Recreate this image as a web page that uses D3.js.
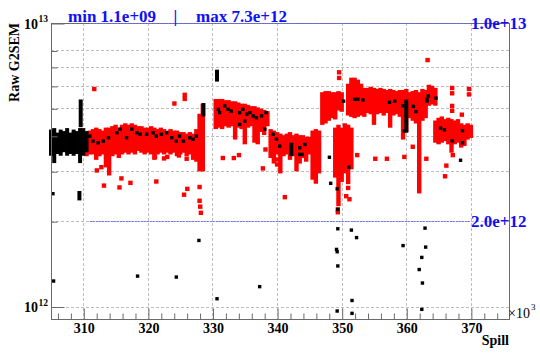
<!DOCTYPE html>
<html><head><meta charset="utf-8">
<script src="https://cdn.jsdelivr.net/npm/d3@7"></script>
<style>body{margin:0;background:#fff}svg{display:block}</style>
</head><body>
<svg id="c" width="540" height="354"></svg>
<script>
// values in units of 1e12 (Raw G2SEM), spill in units of 1e3
const xMajorTicks = [310, 320, 330, 340, 350, 360, 370];
const xTickLabels = ["310", "320", "330", "340", "350", "360", "370"];
const yGridValues = [1, 2, 3, 4, 5, 6, 7, 8, 10];
const titleMin = "min 1.1e+09";
const titleMax = "max 7.3e+12";
const refLines = [10, 2];
const refLabels = ["1.0e+13", "2.0e+12"];

// dense red band: [spill, low, high]
const redBand = [
 [310.5,3.45,4.05],[311.0,3.5,4.1],[311.5,3.5,4.15],[312.0,3.35,4.2],[312.5,3.45,4.15],[313.0,3.5,4.1],
 [313.5,3.15,4.2],[314.0,2.95,4.2],[314.5,3.45,4.25],[315.0,3.5,4.3],[315.5,3.4,4.2],[316.0,3.5,4.3],
 [316.5,3.55,4.35],[317.0,3.5,4.3],[317.5,3.55,4.35],[318.0,3.5,4.3],[318.5,3.6,4.25],[319.0,3.55,4.25],
 [319.5,3.5,4.2],[320.0,3.55,4.2],[320.5,3.5,4.25],[321.0,3.35,4.2],[321.5,3.5,4.15],[322.0,3.55,4.2],
 [322.5,3.5,4.15],[323.0,3.55,4.1],[323.5,3.5,4.15],[324.0,3.55,4.1],[324.5,3.45,4.1],[325.0,3.5,4.05],
 [325.5,3.55,4.05],[326.0,3.45,4.0],[326.5,3.5,4.05],[327.0,3.35,4.0],[327.5,3.3,4.15],[328.0,3.05,4.7],
 [328.5,3.05,5.1],
 [330.5,4.3,5.3],[331.0,4.35,5.3],[331.5,4.3,5.3],[332.0,4.4,5.25],[332.5,4.35,5.25],[333.0,4.4,5.2],
 [333.5,3.95,5.2],[334.0,4.35,5.15],[334.5,4.3,5.1],[335.0,3.8,5.1],[335.5,4.35,5.05],[336.0,4.4,5.0],
 [336.5,3.85,5.0],[337.0,3.8,4.95],[337.5,4.2,4.9],[338.0,4.1,4.85],[338.5,4.4,4.8],
 [339.0,3.4,4.15],[339.5,3.25,4.1],[340.0,3.5,4.05],[340.5,3.0,4.0],[341.0,3.45,3.95],[341.5,3.5,4.0],
 [342.0,3.35,4.05],[342.5,3.45,3.95],[343.0,3.05,4.0],[343.5,3.25,3.95],[344.0,3.4,3.95],[344.5,3.3,3.9],
 [345.0,3.5,3.9],[345.5,2.85,4.1],[346.0,2.76,4.15],[346.5,3.0,4.1],
 [347.0,4.45,5.6],[347.5,4.5,5.65],[348.0,4.6,5.65],[348.5,4.7,5.6],[349.0,4.65,5.6],[349.5,5.0,5.65],[350.0,4.95,5.6],
 [349.0,2.9,4.2],[349.5,2.3,4.3],[350.0,2.8,4.2],[350.5,3.0,4.35],[351.0,2.75,4.3],[351.5,3.1,4.2],
 [351.0,4.8,6.0],[351.5,4.75,6.3],[352.0,4.7,6.3],[352.5,4.75,6.2],[353.0,4.8,6.0],[353.5,4.75,5.8],
 [354.0,4.9,5.8],[354.5,4.85,5.85],[355.0,4.45,5.8],[355.5,4.85,5.75],[356.0,4.9,5.8],[356.5,4.8,5.75],
 [357.0,4.9,5.7],[357.5,4.35,5.75],[358.0,4.8,5.7],[358.5,4.85,5.65],[359.0,4.75,5.7],[359.5,3.95,5.7],
 [360.0,4.2,5.75],[360.5,4.7,5.6],[361.0,4.6,5.65],[361.5,4.5,5.7],[362.0,2.55,5.6],[362.5,4.6,5.75],
 [363.0,4.7,5.7],[363.5,5.2,5.95],[364.0,5.25,5.9],[364.5,5.2,5.8],
 [364.5,3.85,4.45],[365.0,3.8,4.55],[365.5,3.85,4.6],[366.0,3.9,4.5],[366.5,3.8,4.55],[367.0,3.55,4.5],
 [367.5,3.8,4.45],[368.0,3.85,4.5],[368.5,3.7,4.35],[369.0,3.75,4.3],[369.5,3.95,4.35],[370.0,4.0,4.3]
];

// isolated red points: [spill, value]
const redPts = [
 [311.7,5.85],[324.1,5.2],[325.7,5.4],[325.7,5.58],[312.1,3.02],[312.8,3.1],[313.2,2.67],[315.9,2.83],
 [315.6,2.63],[317.3,2.73],[321.1,3.37],[321.3,2.76],[322.5,3.33],[323.0,3.37],[324.8,3.41],[326.0,3.32],
 [326.1,2.6],[325.6,2.48],[328.0,2.64],[328.0,2.36],[328.2,2.14],[328.1,2.25],[331.6,3.34],[333.3,3.34],
 [334.1,3.42],[337.8,3.07],[338.2,3.58],[341.2,2.43],[340.0,3.3],[340.0,3.17],[349.6,6.7],[349.6,6.4],
 [349.4,2.2],[349.4,2.15],[350.7,2.45],[351.2,2.39],[351.0,2.62],[352.4,3.42],[355.2,3.32],[357.0,3.32],
 [359.7,3.37],[361.0,3.66],[363.1,3.32],[363.3,7.4],[367.1,5.65],[367.1,5.9],[369.7,5.6],[369.7,5.85],
 [367.1,4.9],[367.1,5.1],[368.6,4.75],[366.2,3.14],[366.0,2.88],[367.2,3.42]
];

// dense black band: [spill, low, high]
const blackBand = [
 [305.0,3.45,4.15],[305.5,3.25,4.2],[306.0,3.5,4.05],[306.5,3.45,4.15],[307.0,3.55,4.1],[307.5,3.45,4.2],
 [308.0,3.5,4.05],[308.5,3.45,4.15],[309.0,3.5,4.1],[309.5,3.25,4.2],[310.0,3.45,4.2],[310.5,3.55,4.1],
 [309.6,4.35,5.3],[309.4,2.4,2.52],[328.6,4.75,5.15],[330.7,6.3,6.75],[360.0,4.16,5.3],[342.2,3.44,3.73]
];

// isolated black points: [spill, value]
const blackPts = [
 [305.3,2.5],[305.4,1.23],[318.4,1.28],[324.4,1.27],[327.9,1.71],[330.7,1.065],[337.3,1.175],
 [349.4,1.88],[351.5,1.86],[352.3,1.75],[349.2,1.59],[349.3,1.56],[349.4,1.39],[349.3,0.964],[351.6,1.05],
 [351.6,0.946],[359.5,1.64],[362.9,1.89],[363.0,1.62],[362.4,1.49],[362.0,1.35],[362.5,1.21],[362.4,0.977],
 [368.4,3.28],[349.4,2.2],[348.3,2.72],[348.1,3.36],[349.3,2.6],[351.1,3.1],
 [311.0,3.99],[311.5,3.83],[312.3,3.78],[313.1,3.83],[313.9,3.94],[315.2,4.1],[315.7,4.22],[316.7,3.94],
 [317.5,4.22],[318.3,4.1],[318.8,4.05],[319.8,4.05],[320.8,4.1],[321.3,3.99],[322.1,4.05],[322.9,4.1],
 [323.7,3.94],[324.4,3.83],[324.9,3.99],[325.5,3.83],[326.5,3.94],[327.0,3.89],[327.5,3.99],
 [330.9,4.96],[331.1,4.83],[331.9,5.1],[332.4,4.96],[332.9,4.89],[334.2,4.83],[334.7,4.96],[335.3,4.77],
 [335.8,4.83],[336.3,4.7],[336.8,4.63],[337.6,4.7],[338.3,4.83],[334.2,4.39],[335.0,4.5],[338.1,4.22],
 [339.4,4.05],[339.9,3.89],[340.4,3.68],[343.5,3.63],[343.5,3.44],[344.3,3.73],[343.9,3.44],
 [350.3,5.3],[352.0,5.38],[352.5,5.38],[353.3,5.35],[357.4,5.25],[358.2,5.3],[359.5,5.1],[361.1,5.08],
 [361.5,4.87],[363.2,5.38],[363.4,5.53],[364.6,5.43],[363.2,5.3],[359.7,4.16],
 [365.3,4.26],[365.9,4.2],[368.7,4.17],[367.1,3.84],[368.7,3.78]
];

const svg = d3.select("#c");
const L = 51, R = 509, T = 23, B = 319;
const x = d3.scaleLinear().domain([305, 375.9]).range([L, R]);
const y = d3.scaleLog().domain([0.9035, 10]).range([B, T]);
const serif = "'Liberation Serif','Times New Roman',serif";
const axisCol = "#6a6a6a";

// grid
const grid = svg.append("g").attr("stroke", "#bdbdbd").attr("stroke-dasharray", "3,2").attr("stroke-width", 1);
grid.selectAll("line.v").data(xMajorTicks).join("line")
  .attr("x1", d => Math.round(x(d)) + 0.5).attr("x2", d => Math.round(x(d)) + 0.5)
  .attr("y1", T).attr("y2", B);
grid.selectAll("line.h").data(yGridValues).join("line")
  .attr("x1", L).attr("x2", R)
  .attr("y1", d => Math.round(y(d)) + 0.5).attr("y2", d => Math.round(y(d)) + 0.5);

// red data
const rs = 4.4, bs = 3.4;
svg.append("g").attr("fill", "#ff0000").selectAll("rect").data(redBand).join("rect")
  .attr("x", d => x(d[0]) - rs / 2).attr("width", rs)
  .attr("y", d => y(d[2]) - rs / 2).attr("height", d => y(d[1]) - y(d[2]) + rs);
svg.append("g").attr("fill", "#ff0000").selectAll("rect").data(redPts).join("rect")
  .attr("x", d => x(d[0]) - rs / 2).attr("y", d => y(d[1]) - rs / 2).attr("width", rs).attr("height", rs);

// black data
svg.append("g").attr("fill", "#000").selectAll("rect").data(blackBand).join("rect")
  .attr("x", d => x(d[0]) - 2).attr("width", 4)
  .attr("y", d => y(d[2]) - bs / 2).attr("height", d => y(d[1]) - y(d[2]) + bs);
svg.append("g").attr("fill", "#000").selectAll("rect").data(blackPts).join("rect")
  .attr("x", d => x(d[0]) - bs / 2).attr("y", d => y(d[1]) - bs / 2).attr("width", bs).attr("height", bs);

// frame
svg.append("rect").attr("x", L + 0.5).attr("y", T + 0.5).attr("width", R - L).attr("height", B - T)
  .attr("fill", "none").attr("stroke", axisCol).attr("stroke-width", 1);

// x axis
const xMinor = d3.range(306, 376, 2).filter(v => v % 10 !== 0);
const xa = svg.append("g").attr("transform", `translate(0.5,${B + 0.5})`);
xa.call(d3.axisBottom(x).tickValues(xMajorTicks).tickSize(-11).tickPadding(4)
  .tickFormat((d, i) => xTickLabels[i]));
xa.append("g").call(d3.axisBottom(x).tickValues(xMinor).tickSize(-6).tickFormat(""));
xa.selectAll(".domain").remove();
xa.selectAll("line").attr("stroke", axisCol);
xa.selectAll("text").attr("font-family", serif).attr("font-weight", "bold").attr("font-size", 14).attr("fill", "#000");

// y axis ticks
const ya = svg.append("g").attr("transform", `translate(${L + 0.5},0.5)`);
ya.call(d3.axisLeft(y).tickValues([1, 10]).tickSize(-13).tickFormat(""));
ya.append("g").call(d3.axisLeft(y).tickValues([2, 3, 4, 5, 6, 7, 8]).tickSize(-6).tickFormat(""));
ya.selectAll(".domain").remove();
ya.selectAll("line").attr("stroke", axisCol);

// y tick labels 10^12, 10^13
const yl = svg.append("g").attr("font-family", serif).attr("font-weight", "bold").attr("fill", "#000");
[[1, "12"], [10, "13"]].forEach(([v, e]) => {
  const yy = y(v);
  yl.append("text").attr("x", 38).attr("y", yy + 5.5).attr("text-anchor", "end").attr("font-size", 14).text("10");
  yl.append("text").attr("x", 38.5).attr("y", yy - 1).attr("font-size", 9.5).text(e);
});

// reference lines
const rl = svg.append("g");
rl.selectAll("line").data(refLines).join("line")
  .attr("x1", x(311)).attr("x2", x(370))
  .attr("y1", d => Math.round(y(d)) + 0.5).attr("y2", d => Math.round(y(d)) + 0.5)
  .attr("stroke", "#6f6fff").attr("stroke-width", 1.2).attr("stroke-dasharray", "2,1");
rl.selectAll("text").data(refLabels).join("text")
  .attr("x", 471).attr("y", (d, i) => y(refLines[i]) + 6)
  .attr("font-family", serif).attr("font-weight", "bold").attr("font-size", 17).attr("fill", "#1010f5")
  .text(d => d);

// title
const tt = svg.append("g").attr("font-family", serif).attr("font-weight", "bold").attr("font-size", 17).attr("fill", "#1010f5");
tt.append("text").attr("x", 68).attr("y", 22).text(titleMin);
tt.append("text").attr("x", 173.5).attr("y", 22).text("|");
tt.append("text").attr("x", 196).attr("y", 22).text(titleMax);

// axis titles
svg.append("text").attr("transform", "translate(19,23) rotate(-90)").attr("text-anchor", "end")
  .attr("font-family", serif).attr("font-weight", "bold").attr("font-size", 14).text("Raw G2SEM");
svg.append("text").attr("x", 509).attr("y", 345).attr("text-anchor", "end")
  .attr("font-family", serif).attr("font-weight", "bold").attr("font-size", 14).text("Spill");
const ex = svg.append("g").attr("font-family", serif).attr("fill", "#000");
ex.append("text").attr("x", 530).attr("y", 318).attr("text-anchor", "end").attr("font-size", 14).text("×10");
ex.append("text").attr("x", 531).attr("y", 310).attr("font-size", 9).text("3");
</script>
</body></html>
